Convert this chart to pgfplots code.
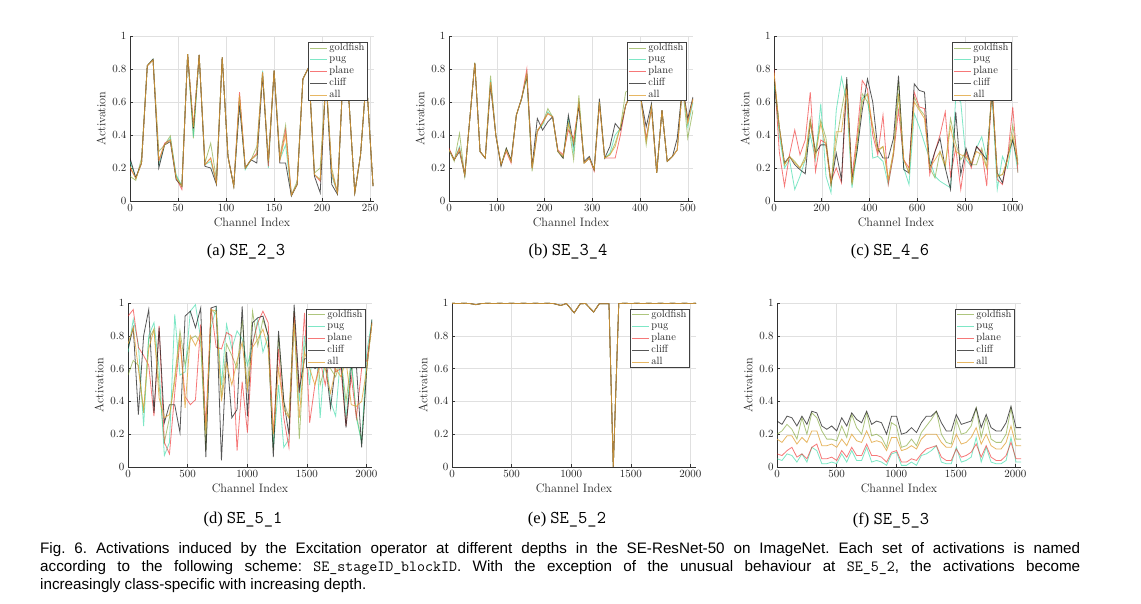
\documentclass[border=0pt]{standalone}
\usepackage{fontspec}
\usepackage{pgfplots}
\usepackage{pgfplotstable}
\pgfplotsset{compat=1.18}
\newfontfamily\arialf{Liberation Sans}
\newfontfamily\timesf{Liberation Serif}

\definecolor{cgold}{RGB}{120,160,40}
\definecolor{cpug}{RGB}{40,215,160}
\definecolor{cplane}{RGB}{240,30,30}
\definecolor{ccliff}{RGB}{30,30,30}
\definecolor{call}{RGB}{225,165,60}

\pgfplotsset{
  panel/.style={
    scale only axis, width=244pt, anchor=south west,
    axis x line*=bottom, axis y line*=left,
    xmin=0, ymin=0, ymax=1,
    ytick={0,0.2,0.4,0.6,0.8,1},
    grid=major, major grid style={line width=0.4pt, black!12},
    axis line style={line width=0.5pt, black!80},
    tick align=inside, major tick length=2.5pt, tick style={line width=0.5pt, black!80},
    ticklabel style={font=\fontsize{11}{12}\selectfont, text=black!85},
    label style={font=\fontsize{12.2}{13}\selectfont, text=black!85},
    xlabel style={yshift=1pt},
    xlabel={Channel Index}, ylabel={Activation},
    scaled ticks=false,
    xticklabel style={/pgf/number format/1000 sep={}},
    legend style={at={(0.975,0.965)}, anchor=north east, draw=black!75, line width=0.8pt, fill=white,
       font=\fontsize{10.5}{11}\selectfont, text=black!85, inner xsep=1pt, inner ysep=0.5pt, row sep=1.5pt,
       nodes={inner xsep=2pt, inner ysep=0.5pt, text height=7pt, text depth=2.3pt}},
    legend cell align=left,
    legend image code/.code={\draw[#1, line width=0.6pt] (0pt,0pt) -- (17pt,0pt);},
  },
  gf/.style={cgold, line width=0.8pt, opacity=0.6},
  pg/.style={cpug, line width=0.8pt, opacity=0.6},
  pl/.style={cplane, line width=0.8pt, opacity=0.6},
  cl/.style={ccliff, line width=0.8pt, opacity=0.75},
  al/.style={call, line width=0.8pt, opacity=0.8},
}

\pgfplotstableread{
x g p l c a
0 0.15 0.24 0.20 0.26 0.21
6 0.125 0.14 0.14 0.14 0.135
12 0.26 0.23 0.23 0.23 0.23
18 0.82 0.82 0.82 0.82 0.82
24 0.855 0.86 0.855 0.86 0.855
30 0.30 0.22 0.24 0.20 0.25
36 0.34 0.34 0.35 0.34 0.34
42 0.395 0.38 0.37 0.36 0.37
48 0.15 0.16 0.14 0.13 0.14
54 0.09 0.09 0.07 0.09 0.09
60 0.89 0.89 0.89 0.89 0.89
66 0.38 0.39 0.44 0.44 0.45
72 0.885 0.885 0.885 0.885 0.885
78 0.23 0.22 0.22 0.21 0.22
84 0.35 0.24 0.26 0.20 0.26
90 0.13 0.11 0.11 0.10 0.11
96 0.87 0.87 0.87 0.87 0.87
102 0.27 0.27 0.27 0.27 0.27
108 0.09 0.09 0.09 0.09 0.09
114 0.64 0.62 0.66 0.58 0.64
120 0.20 0.19 0.20 0.20 0.20
126 0.25 0.25 0.25 0.25 0.25
132 0.33 0.28 0.29 0.23 0.28
138 0.78 0.79 0.78 0.76 0.78
144 0.23 0.20 0.21 0.24 0.24
150 0.79 0.79 0.79 0.79 0.79
156 0.27 0.25 0.25 0.23 0.25
162 0.46 0.34 0.43 0.23 0.40
168 0.035 0.035 0.035 0.03 0.035
174 0.12 0.10 0.10 0.10 0.10
180 0.74 0.74 0.74 0.74 0.74
186 0.81 0.81 0.81 0.81 0.81
192 0.17 0.16 0.16 0.15 0.16
198 0.20 0.13 0.12 0.05 0.13
204 0.75 0.75 0.75 0.75 0.75
210 0.20 0.15 0.17 0.10 0.17
216 0.05 0.05 0.05 0.04 0.05
222 0.80 0.80 0.80 0.80 0.80
228 0.60 0.60 0.60 0.60 0.60
234 0.05 0.05 0.05 0.05 0.05
240 0.28 0.28 0.28 0.28 0.28
246 0.75 0.75 0.75 0.75 0.75
253 0.09 0.09 0.09 0.09 0.09
}\tA

\pgfplotstableread{
x g p l c a
0 0.31 0.31 0.32 0.31 0.31
11 0.24 0.25 0.25 0.25 0.25
22 0.41 0.33 0.32 0.30 0.31
33 0.15 0.155 0.16 0.155 0.155
43 0.48 0.48 0.48 0.48 0.48
54 0.84 0.835 0.835 0.835 0.835
65 0.30 0.30 0.30 0.30 0.30
76 0.26 0.26 0.26 0.26 0.26
87 0.76 0.73 0.72 0.70 0.72
98 0.40 0.40 0.40 0.40 0.40
109 0.22 0.22 0.22 0.21 0.22
120 0.32 0.31 0.30 0.32 0.31
130 0.24 0.24 0.23 0.25 0.24
141 0.52 0.52 0.52 0.52 0.52
152 0.62 0.62 0.62 0.62 0.62
163 0.75 0.77 0.80 0.76 0.77
174 0.18 0.20 0.20 0.21 0.20
185 0.42 0.43 0.42 0.50 0.43
196 0.47 0.46 0.48 0.43 0.47
207 0.56 0.54 0.53 0.48 0.53
217 0.51 0.51 0.51 0.51 0.51
228 0.30 0.30 0.31 0.30 0.30
239 0.26 0.27 0.28 0.26 0.27
250 0.47 0.50 0.43 0.52 0.47
261 0.25 0.30 0.38 0.34 0.35
272 0.64 0.60 0.58 0.58 0.60
283 0.23 0.23 0.23 0.24 0.23
294 0.26 0.26 0.26 0.27 0.26
304 0.19 0.19 0.18 0.19 0.19
315 0.60 0.60 0.59 0.62 0.60
326 0.26 0.26 0.26 0.26 0.26
337 0.28 0.29 0.26 0.33 0.28
348 0.35 0.40 0.26 0.47 0.33
359 0.45 0.44 0.40 0.43 0.45
370 0.66 0.58 0.58 0.58 0.58
381 0.68 0.65 0.65 0.65 0.65
391 0.75 0.75 0.75 0.75 0.75
402 0.62 0.62 0.62 0.62 0.62
413 0.34 0.37 0.38 0.45 0.36
424 0.57 0.57 0.56 0.59 0.57
435 0.17 0.17 0.17 0.17 0.17
446 0.55 0.55 0.55 0.55 0.55
457 0.24 0.24 0.24 0.24 0.24
468 0.27 0.27 0.27 0.27 0.27
478 0.31 0.31 0.31 0.38 0.31
489 0.70 0.70 0.70 0.70 0.70
500 0.38 0.45 0.48 0.50 0.47
511 0.55 0.60 0.62 0.63 0.62
}\tB

\pgfplotstableread{
x g p l c a
0 0.76 0.72 0.80 0.75 0.78
22 0.45 0.40 0.30 0.45 0.45
44 0.22 0.20 0.09 0.23 0.22
65 0.27 0.25 0.28 0.27 0.27
87 0.24 0.07 0.43 0.22 0.23
109 0.20 0.15 0.28 0.19 0.20
131 0.27 0.25 0.37 0.165 0.25
152 0.50 0.40 0.66 0.48 0.48
174 0.30 0.25 0.18 0.29 0.27
196 0.49 0.59 0.37 0.34 0.47
218 0.38 0.15 0.35 0.34 0.33
239 0.10 0.05 0.12 0.10 0.10
261 0.35 0.55 0.20 0.29 0.42
283 0.55 0.75 0.11 0.13 0.42
305 0.72 0.60 0.70 0.75 0.68
327 0.10 0.08 0.15 0.13 0.10
348 0.35 0.30 0.40 0.30 0.35
370 0.65 0.62 0.73 0.55 0.60
392 0.60 0.65 0.68 0.74 0.65
414 0.45 0.26 0.40 0.60 0.45
435 0.30 0.27 0.28 0.32 0.31
457 0.33 0.24 0.52 0.26 0.33
479 0.13 0.10 0.10 0.26 0.13
501 0.30 0.28 0.28 0.38 0.30
522 0.73 0.65 0.55 0.76 0.65
544 0.25 0.20 0.25 0.19 0.25
566 0.17 0.10 0.20 0.17 0.17
588 0.63 0.53 0.66 0.71 0.60
609 0.56 0.45 0.57 0.67 0.55
631 0.52 0.35 0.56 0.66 0.50
653 0.20 0.25 0.16 0.20 0.20
675 0.14 0.15 0.30 0.30 0.25
696 0.30 0.12 0.40 0.38 0.30
718 0.20 0.10 0.54 0.20 0.22
740 0.50 0.08 0.15 0.07 0.45
762 0.35 0.63 0.32 0.54 0.30
783 0.25 0.60 0.07 0.16 0.28
805 0.30 0.25 0.30 0.32 0.27
827 0.22 0.21 0.20 0.22 0.23
849 0.22 0.32 0.33 0.33 0.30
871 0.32 0.39 0.30 0.29 0.28
892 0.20 0.25 0.09 0.25 0.20
914 0.69 0.66 0.72 0.66 0.70
936 0.15 0.07 0.13 0.17 0.15
958 0.16 0.27 0.10 0.11 0.16
979 0.25 0.20 0.26 0.27 0.25
1001 0.46 0.38 0.57 0.37 0.40
1023 0.24 0.17 0.17 0.22 0.22
}\tC

\pgfplotstableread{
x g p l c a
0 0.56 0.70 0.92 0.72 0.75
44 0.65 0.90 0.96 0.85 0.85
87 0.62 0.75 0.73 0.32 0.60
131 0.33 0.25 0.68 0.80 0.35
174 0.78 0.80 0.62 0.96 0.72
218 0.84 0.88 0.31 0.33 0.84
261 0.50 0.60 0.86 0.85 0.42
305 0.15 0.07 0.15 0.27 0.30
348 0.30 0.15 0.08 0.38 0.32
392 0.55 0.93 0.45 0.38 0.52
436 0.83 0.56 0.77 0.21 0.80
479 0.62 0.58 0.43 0.92 0.36
523 0.78 0.95 0.38 0.95 0.80
566 0.80 0.99 0.41 0.85 0.74
610 0.76 0.78 0.87 0.97 0.82
653 0.10 0.20 0.25 0.06 0.20
697 0.96 0.85 0.97 0.97 0.96
740 0.93 0.97 0.73 0.98 0.95
784 0.42 0.50 0.72 0.04 0.40
827 0.75 0.87 0.82 0.70 0.63
871 0.68 0.72 0.80 0.30 0.50
915 0.60 0.83 0.10 0.35 0.65
958 0.90 0.78 0.52 0.98 0.76
1002 0.47 0.62 0.21 0.31 0.47
1045 0.95 0.75 0.75 0.88 0.73
1089 0.74 0.90 0.88 0.91 0.78
1132 0.90 0.70 0.95 0.92 0.84
1176 0.80 0.80 0.88 0.80 0.72
1219 0.10 0.12 0.20 0.06 0.20
1263 0.80 0.50 0.72 0.83 0.60
1307 0.40 0.12 0.30 0.40 0.35
1350 0.30 0.17 0.12 0.20 0.30
1394 0.95 0.88 0.94 0.99 0.88
1437 0.17 0.40 0.45 0.47 0.30
1481 0.73 0.80 0.94 0.66 0.70
1524 0.85 0.50 0.27 0.66 0.60
1568 0.90 0.90 0.50 0.60 0.50
1612 0.50 0.30 0.65 0.62 0.62
1655 0.62 0.72 0.50 0.65 0.60
1699 0.60 0.40 0.70 0.36 0.45
1742 0.55 0.31 0.58 0.62 0.60
1786 0.66 0.70 0.60 0.65 0.55
1829 0.40 0.29 0.25 0.24 0.65
1873 0.65 0.65 0.55 0.60 0.38
1916 0.32 0.30 0.30 0.62 0.37
1960 0.15 0.15 0.60 0.12 0.40
2003 0.60 0.70 0.65 0.60 0.60
2047 0.88 0.90 0.88 0.90 0.88
}\tD

\pgfplotstableread{
x g p l c a
0 0.998 0.998 0.998 0.998 0.998
50 0.997 0.997 0.997 0.997 0.997
100 0.998 0.998 0.998 0.998 0.998
150 0.997 0.997 0.997 0.997 0.997
200 0.990 0.990 0.990 0.990 0.990
250 0.997 0.997 0.997 0.997 0.997
300 0.998 0.998 0.998 0.998 0.998
350 0.997 0.997 0.997 0.997 0.997
400 0.998 0.998 0.998 0.998 0.998
450 0.997 0.997 0.997 0.997 0.997
500 0.998 0.998 0.998 0.998 0.998
550 0.997 0.997 0.997 0.997 0.997
600 0.998 0.998 0.998 0.998 0.998
650 0.997 0.997 0.997 0.997 0.997
700 0.998 0.998 0.998 0.998 0.998
750 0.997 0.997 0.997 0.997 0.997
800 0.998 0.998 0.998 0.998 0.998
850 0.997 0.997 0.997 0.997 0.997
913 0.985 0.985 0.985 0.985 0.985
960 0.997 0.997 0.997 0.997 0.997
1025 0.940 0.940 0.940 0.940 0.940
1075 0.995 0.995 0.995 0.995 0.995
1120 0.997 0.997 0.997 0.997 0.997
1188 0.945 0.945 0.945 0.945 0.945
1235 0.995 0.995 0.995 0.995 0.995
1317 0.995 0.995 0.995 0.995 0.995
1353 0.0 0.0 0.0 0.0 0.0
1399 0.997 0.997 0.997 0.997 0.997
1450 0.998 0.998 0.998 0.998 0.998
1500 0.997 0.997 0.997 0.997 0.997
1550 0.998 0.998 0.998 0.998 0.998
1600 0.997 0.997 0.997 0.997 0.997
1650 0.998 0.998 0.998 0.998 0.998
1700 0.997 0.997 0.997 0.997 0.997
1750 0.998 0.998 0.998 0.998 0.998
1800 0.997 0.997 0.997 0.997 0.997
1850 0.998 0.998 0.998 0.998 0.998
1900 0.997 0.997 0.997 0.997 0.997
1950 0.998 0.998 0.998 0.998 0.998
2000 0.997 0.997 0.997 0.997 0.997
2047 0.998 0.998 0.998 0.998 0.998
}\tE

\pgfplotstableread{
x g p l c a
0 0.20 0.05 0.08 0.28 0.17
42 0.22 0.04 0.07 0.26 0.15
84 0.26 0.08 0.10 0.31 0.19
125 0.23 0.07 0.12 0.30 0.19
167 0.17 0.03 0.06 0.25 0.14
209 0.30 0.08 0.08 0.31 0.18
251 0.20 0.03 0.05 0.26 0.15
292 0.33 0.12 0.12 0.34 0.22
334 0.30 0.10 0.14 0.33 0.22
376 0.22 0.02 0.05 0.25 0.13
418 0.17 0.02 0.05 0.23 0.13
459 0.17 0.03 0.06 0.25 0.14
501 0.16 0.02 0.04 0.22 0.12
543 0.25 0.08 0.10 0.30 0.17
585 0.18 0.03 0.06 0.25 0.13
627 0.32 0.10 0.12 0.33 0.20
668 0.24 0.04 0.07 0.29 0.16
710 0.20 0.04 0.07 0.27 0.15
752 0.33 0.12 0.14 0.34 0.22
794 0.19 0.03 0.07 0.26 0.15
835 0.20 0.04 0.07 0.28 0.16
877 0.18 0.03 0.06 0.27 0.15
919 0.12 0.01 0.03 0.20 0.10
961 0.27 0.08 0.09 0.31 0.18
1003 0.25 0.09 0.10 0.31 0.18
1044 0.12 0.01 0.03 0.20 0.10
1086 0.13 0.01 0.03 0.21 0.11
1128 0.17 0.03 0.05 0.24 0.13
1170 0.13 0.01 0.04 0.21 0.11
1211 0.21 0.07 0.08 0.27 0.17
1253 0.25 0.08 0.11 0.31 0.20
1295 0.29 0.10 0.12 0.31 0.20
1337 0.34 0.13 0.13 0.34 0.20
1379 0.20 0.03 0.06 0.27 0.15
1420 0.15 0.02 0.04 0.22 0.12
1462 0.14 0.02 0.04 0.22 0.12
1504 0.29 0.12 0.11 0.32 0.20
1546 0.20 0.03 0.06 0.26 0.14
1587 0.21 0.04 0.07 0.27 0.15
1629 0.25 0.06 0.09 0.28 0.18
1671 0.36 0.18 0.14 0.36 0.24
1713 0.18 0.03 0.06 0.24 0.14
1755 0.30 0.12 0.13 0.32 0.20
1796 0.17 0.03 0.06 0.24 0.13
1838 0.15 0.02 0.04 0.22 0.11
1880 0.15 0.02 0.04 0.22 0.11
1922 0.20 0.04 0.07 0.27 0.15
1963 0.36 0.18 0.15 0.37 0.25
2005 0.17 0.03 0.05 0.24 0.13
2047 0.17 0.03 0.05 0.24 0.13
}\tF

\newcommand\allplots[1]{%
  \addplot[gf] table[x=x,y=g]{#1};
  \addplot[pg] table[x=x,y=p]{#1};
  \addplot[pl] table[x=x,y=l]{#1};
  \addplot[cl] table[x=x,y=c]{#1};
  \addplot[al] table[x=x,y=a]{#1};
  \legend{goldfish,pug,plane,cliff,all}}

\newcommand\subcap[2]{{\fontsize{16.5}{18}\selectfont\timesf (#1)\ {\ttfamily\fontsize{18}{18}\selectfont #2}}}

\begin{document}
\begin{tikzpicture}[x=1pt,y=1pt]
\path[use as bounding box, fill=white] (0,0) rectangle (1141,604);

\begin{axis}[panel, at={(130pt,403pt)}, height=165pt, xmax=254, xtick={0,50,...,250}]
\allplots{\tA}
\end{axis}
\begin{axis}[panel, at={(449pt,403pt)}, height=165pt, xmax=511, xtick={0,100,...,500}]
\allplots{\tB}
\end{axis}
\begin{axis}[panel, at={(774pt,403pt)}, height=165pt, xmax=1023, xtick={0,200,...,1000}]
\allplots{\tC}
\end{axis}
\begin{axis}[panel, at={(128pt,137pt)}, height=164pt, xmax=2047, xtick={0,500,...,2000}]
\allplots{\tD}
\end{axis}
\begin{axis}[panel, at={(452pt,137pt)}, height=164pt, xmax=2047, xtick={0,500,...,2000}]
\allplots{\tE}
\end{axis}
\begin{axis}[panel, at={(777pt,137pt)}, height=164pt, xmax=2047, xtick={0,500,...,2000}]
\allplots{\tF}
\end{axis}

\node at (246,352) {\subcap{a}{SE\_2\_3}};
\node at (568,352) {\subcap{b}{SE\_3\_4}};
\node at (890,352) {\subcap{c}{SE\_4\_6}};
\node at (243,84) {\subcap{d}{SE\_5\_1}};
\node at (567,84) {\subcap{e}{SE\_5\_2}};
\node at (891,84) {\subcap{f}{SE\_5\_3}};

\node[anchor=north west, inner sep=0pt, text width=1040pt, align=justify] at (40,62)
{\arialf\fontsize{15.2}{18}\selectfont\frenchspacing\tolerance=10000\hyphenpenalty=10000
Fig. 6. Activations induced by the Excitation operator at different depths in the SE-ResNet-50 on ImageNet. Each set of activations is named\linebreak
according to the following scheme: {\ttfamily\fontsize{15.5}{18}\selectfont SE\_stageID\_blockID}. With the exception of the unusual behaviour at {\ttfamily\fontsize{15.5}{18}\selectfont SE\_5\_2}, the activations become\linebreak
increasingly class-specific with increasing depth.\par};
\end{tikzpicture}
\end{document}
